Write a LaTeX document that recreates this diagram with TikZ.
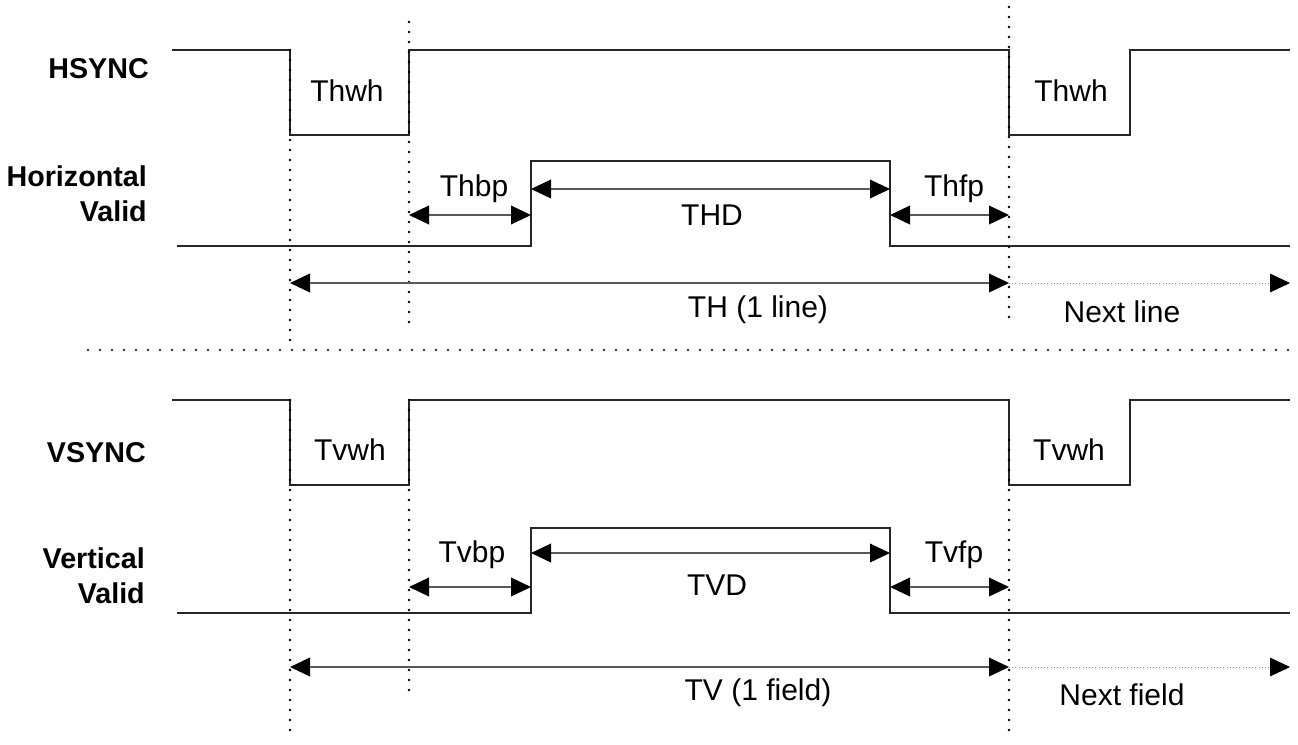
\documentclass[tikz,border=0pt]{standalone}
\usepackage{fontspec}
\setmainfont{Liberation Sans}
\usetikzlibrary{arrows.meta}
\begin{document}
\begin{tikzpicture}[x=0.75pt,y=-0.75pt,
  sig/.style={line width=1.1pt, draw=black!85, line join=miter},
  tip/.style={},
  dim/.style={line width=1.1pt, draw=black!65,
    {Triangle[length=15pt,width=14pt,color=black]}-{Triangle[length=15pt,width=14pt,color=black]}},
  nextarrow/.style={line width=0.7pt, draw=black!45, dash pattern=on 0.8pt off 1.6pt,
    -{Triangle[length=15pt,width=14pt,color=black]}},
  gridline/.style={line width=2pt, draw=black, dash pattern=on 0pt off 7.5pt, line cap=round},
  sepline/.style={line width=2pt, draw=black!80, dash pattern=on 0pt off 9pt, line cap=round},
  lbl/.style={font=\fontsize{22.5}{27}\selectfont, inner sep=0pt, anchor=base},
  signame/.style={font=\fontsize{21.5}{26.25}\selectfont\bfseries, inner sep=0pt, align=right}
]
\useasboundingbox (0,0) rectangle (1298,744);

% ---------------- upper half: horizontal timing ----------------
\draw[sig] (172,50) -- (290,50) -- (290,135) -- (409,135) -- (409,50) -- (1009,50)
  -- (1009,135) -- (1130,135) -- (1130,50) -- (1290,50);
\draw[sig] (177,246) -- (531,246) -- (531,161) -- (890,161) -- (890,246) -- (1290,246);

\coordinate (ua1) at (290,50);  \coordinate (ub1) at (290,345);
\coordinate (ua2) at (409,22);  \coordinate (ub2) at (409,325);
\coordinate (ua3) at (1009,7);  \coordinate (ub3) at (1009,325);
\draw[gridline] (ua1) -- (ub1);
\draw[gridline] (ua2) -- (ub2);
\draw[gridline] (ua3) -- (ub3);

\coordinate (hbpL) at (409,215); \coordinate (hbpR) at (531,215);
\coordinate (hdL) at (531,189);  \coordinate (hdR) at (890,189);
\coordinate (hfpL) at (890,215); \coordinate (hfpR) at (1009,215);
\coordinate (thL) at (290,283);  \coordinate (thR) at (1009,283);
\coordinate (thN) at (1290,283);
\draw[dim] (hbpL) -- (hbpR);
\draw[dim] (hdL) -- (hdR);
\draw[dim] (hfpL) -- (hfpR);
\draw[dim] (thL) -- (thR);
\draw[nextarrow] (thR) -- (thN);

\node[signame, anchor=base east] (hsync) at (149,78) {HSYNC};
\node[signame, anchor=east] (hvalid) at (147,194) {Horizontal\\Valid};
\node[lbl] (thwh1) at (347,101) {Thwh};
\node[lbl] (thwh2) at (1071,101) {Thwh};
\node[lbl] (thbp) at (474,196) {Thbp};
\node[lbl] (thd) at (712,225) {THD};
\node[lbl] (thfp) at (954,196) {Thfp};
\node[lbl] (th) at (758,317) {TH (1 line)};
\node[lbl] (nline) at (1122,322) {Next line};

% separator
\coordinate (sepL) at (88,350); \coordinate (sepR) at (1290,350);
\draw[sepline] (sepL) -- (sepR);

% ---------------- lower half: vertical timing ----------------
\draw[sig] (172,400) -- (290,400) -- (290,485) -- (409,485) -- (409,400) -- (1009,400)
  -- (1009,485) -- (1130,485) -- (1130,400) -- (1290,400);
\draw[sig] (177,613) -- (531,613) -- (531,528) -- (890,528) -- (890,613) -- (1290,613);

\coordinate (la1) at (290,400);  \coordinate (lb1) at (290,735);
\coordinate (la2) at (409,400);  \coordinate (lb2) at (409,695);
\coordinate (la3) at (1009,440); \coordinate (lb3) at (1009,737);
\draw[gridline] (la1) -- (lb1);
\draw[gridline] (la2) -- (lb2);
\draw[gridline] (la3) -- (lb3);

\coordinate (vbpL) at (409,587); \coordinate (vbpR) at (531,587);
\coordinate (vdL) at (531,553);  \coordinate (vdR) at (890,553);
\coordinate (vfpL) at (890,587); \coordinate (vfpR) at (1009,587);
\coordinate (tvL) at (290,667);  \coordinate (tvR) at (1009,667);
\coordinate (tvN) at (1290,667);
\draw[dim] (vbpL) -- (vbpR);
\draw[dim] (vdL) -- (vdR);
\draw[dim] (vfpL) -- (vfpR);
\draw[dim] (tvL) -- (tvR);
\draw[nextarrow] (tvR) -- (tvN);

\node[signame, anchor=base east] (vsync) at (146,462) {VSYNC};
\node[signame, anchor=east] (vvalid) at (145,576) {Vertical\\Valid};
\node[lbl] (tvwh1) at (350,460) {Tvwh};
\node[lbl] (tvwh2) at (1069,460) {Tvwh};
\node[lbl] (tvbp) at (472,562) {Tvbp};
\node[lbl] (tvd) at (717,595) {TVD};
\node[lbl] (tvfp) at (954,562) {Tvfp};
\node[lbl] (tv) at (758,700) {TV (1 field)};
\node[lbl] (nfield) at (1122,705) {Next field};
\end{tikzpicture}
\end{document}
